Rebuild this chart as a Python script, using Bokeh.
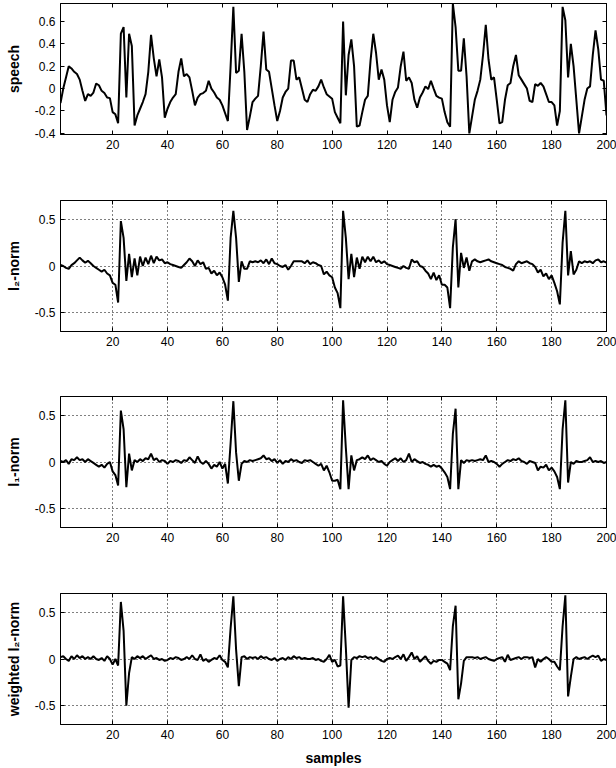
from bokeh.plotting import figure
from bokeh.layouts import column
from bokeh.models import Range1d, FixedTicker, LinearAxis, CustomJSTickFormatter
from bokeh.embed import file_html
from bokeh.resources import INLINE

samples = list(range(1, 201))

speech = [
    -0.13, 0.0, 0.1, 0.2, 0.18, 0.15, 0.13, 0.08, -0.02, -0.11,
    -0.05, -0.065, -0.035, 0.045, 0.03, -0.02, -0.04, -0.08, -0.085, -0.21,
    -0.23, -0.31, 0.49, 0.55, -0.08, 0.49, 0.38, -0.33, -0.24, -0.18,
    -0.12, -0.05, 0.15, 0.48, 0.27, 0.11, 0.26, 0.1, -0.26, -0.18,
    -0.12, -0.08, -0.05, 0.15, 0.27, 0.11, 0.13, 0.1, -0.02, -0.15,
    -0.08, -0.05, -0.04, -0.02, 0.07, 0.0, -0.035, -0.08, -0.1, -0.15,
    -0.22, -0.29, 0.2, 0.73, 0.14, 0.16, 0.49, 0.15, -0.37, -0.25,
    -0.12, -0.09, -0.065, 0.2, 0.51, 0.17, 0.15, 0.0, -0.15, -0.29,
    -0.2, -0.08, -0.03, 0.0, 0.25, 0.25, 0.08, 0.1, 0.0, -0.1,
    -0.12, -0.05, -0.01, -0.02, 0.02, 0.08, 0.01, -0.05, -0.07, -0.09,
    -0.21, -0.26, -0.31, 0.6, -0.06, 0.3, 0.44, 0.2, -0.34, -0.33,
    -0.21, -0.1, -0.065, 0.25, 0.49, 0.32, 0.08, 0.17, 0.08, -0.15,
    -0.3, -0.1, -0.03, 0.01, 0.2, 0.33, 0.07, 0.1, 0.05, -0.1,
    -0.17, -0.08, -0.035, 0.02, -0.005, 0.07, 0.0, -0.065, -0.08, -0.09,
    -0.21, -0.3, -0.34, 0.76, 0.55, 0.16, 0.16, 0.45, 0.11, -0.4,
    -0.25, -0.1, -0.02, 0.08, 0.3, 0.57, 0.26, 0.08, 0.1, -0.1,
    -0.31, -0.3, -0.1, 0.03, 0.05, 0.2, 0.3, 0.12, 0.08, 0.04,
    0.0, -0.11, -0.12, 0.04, 0.025, 0.05, 0.02, -0.05, -0.12, -0.12,
    -0.15, -0.33, -0.2, 0.73, 0.61, 0.1, 0.4, 0.2, -0.1, -0.4,
    -0.25, -0.1, 0.0, 0.02, 0.3, 0.52, 0.35, 0.08, 0.07, -0.24,
]

l2_norm = [
    0.01, 0.0, -0.02, -0.03, 0.01, 0.03, 0.06, 0.09, 0.06, 0.035,
    0.055, 0.03, 0.0, -0.02, -0.04, -0.06, -0.04, -0.08, -0.1, -0.18,
    -0.2, -0.39, 0.48, 0.3, -0.16, 0.13, -0.12, 0.08, -0.1, 0.1,
    0.0, 0.09, 0.02, 0.11, 0.03, 0.1, 0.06, 0.07, 0.03, 0.04,
    0.02, 0.01, 0.0, -0.01, -0.02, 0.01, 0.04, 0.08, 0.05, 0.0,
    0.06, 0.02, 0.04, -0.03, -0.02, -0.08, -0.05, -0.1, -0.07, -0.12,
    -0.2, -0.37, 0.3, 0.59, 0.3, -0.17, 0.05, -0.03, -0.03, 0.05,
    0.04, 0.05, 0.04, 0.06, 0.03, 0.07, 0.02, 0.08, 0.03, 0.02,
    0.0, -0.01, 0.01, -0.04, 0.0, 0.05, 0.05, 0.05, 0.05, 0.03,
    0.06, 0.02, 0.04, 0.03, 0.01, 0.0, -0.09, -0.06, -0.1, -0.12,
    -0.23, -0.29, -0.45, 0.59, 0.3, -0.14, 0.13, -0.12, 0.09, -0.03,
    0.1, 0.04, 0.1, 0.05, 0.1, 0.04, 0.06, 0.03, 0.05, 0.02,
    0.01, 0.0, -0.01, -0.02, -0.03, 0.0, -0.02, -0.03, 0.07, 0.04,
    0.05, 0.0, -0.01, -0.05, -0.08, -0.14, -0.07, -0.15, -0.1, -0.2,
    -0.2, -0.23, -0.45, 0.2, 0.5, -0.23, 0.14, -0.02, 0.09, -0.05,
    0.05, 0.07, 0.05, 0.04, 0.05, 0.06, 0.07, 0.05, 0.04, 0.03,
    0.02, 0.01, -0.01, -0.02, -0.03, -0.05, 0.02, 0.05, 0.03, 0.04,
    0.05, 0.03, 0.02, -0.01, -0.07, -0.04, -0.11, -0.08, -0.14, -0.1,
    -0.18, -0.27, -0.41, 0.25, 0.59, -0.1, 0.16, -0.09, -0.04, 0.05,
    0.03, 0.05, 0.04, 0.05, 0.03, 0.06, 0.07, 0.04, 0.05, 0.035,
]

l1_norm = [
    0.01, 0.0, 0.02, -0.02, 0.03, 0.02, 0.05, 0.02, 0.03, 0.0,
    0.03, 0.01, -0.01, -0.03, -0.05, -0.03, -0.06, -0.02, 0.0, -0.1,
    -0.14, -0.25, 0.55, 0.35, -0.27, 0.09, -0.09, 0.02, 0.0, 0.03,
    0.01, 0.04, 0.03, 0.09, 0.02, 0.04, 0.0, 0.02, 0.01, -0.02,
    0.01, 0.0, 0.02, 0.01, -0.01, 0.02, 0.01, 0.05, 0.02, -0.01,
    0.06, 0.0, -0.02, 0.01, -0.02, -0.07, -0.03, -0.05, 0.0, -0.07,
    -0.02, -0.23, 0.2, 0.65, 0.1, -0.2, -0.02, 0.01, 0.0, 0.02,
    0.01, 0.02, 0.03, 0.04, 0.07, 0.03, 0.04, 0.01, 0.03, -0.01,
    0.02, -0.02, 0.01, 0.0, 0.03, 0.01, 0.02, 0.0, -0.01, 0.02,
    0.01, 0.02, 0.0, -0.02, -0.04, -0.02, -0.09, -0.04, -0.11, -0.2,
    -0.2, -0.19, -0.29, 0.66, 0.15, -0.29, 0.07, -0.09, 0.02, 0.03,
    0.05, 0.03, 0.07, 0.02, 0.04, 0.02, 0.0, 0.01, -0.02, -0.04,
    0.0, 0.02, 0.04, 0.01, 0.04, 0.0, 0.02, 0.09, 0.0, 0.03,
    0.01, -0.01, 0.0, -0.02, -0.03, -0.05, -0.03, -0.05, -0.04, -0.07,
    -0.11, -0.16, -0.29, 0.3, 0.57, -0.29, 0.02, -0.01, 0.02, 0.01,
    0.02, 0.01, 0.02, 0.03, 0.02, 0.07, 0.0, 0.01, 0.0, -0.02,
    -0.05, -0.02, 0.0, 0.02, 0.01, 0.03, 0.02, 0.04, 0.01, 0.0,
    -0.02, 0.01, 0.0, -0.01, -0.09, -0.05, -0.06, -0.03, -0.09, -0.06,
    -0.1, -0.16, -0.29, 0.35, 0.66, -0.22, 0.0, -0.02, 0.01, 0.0,
    0.0, 0.01, 0.02, 0.05, 0.0, 0.01, 0.0, 0.01, -0.01, 0.0,
]

weighted_l2_norm = [
    0.02, 0.03, 0.0, -0.02, 0.03, 0.0, 0.04, 0.01, 0.03, 0.0,
    0.02, 0.0, 0.03, 0.0, -0.01, 0.01, -0.02, 0.03, 0.0, -0.06,
    0.0, -0.07, 0.61, 0.3, -0.5, -0.15, 0.02, 0.0, 0.03, 0.01,
    0.03, 0.0, 0.02, 0.04, 0.0, 0.01, -0.01, 0.0, -0.02, -0.01,
    0.01, 0.0, 0.02, 0.01, -0.01, 0.0, 0.02, 0.0, 0.04, 0.0,
    -0.01, 0.05, -0.02, 0.0, -0.03, -0.01, 0.01, 0.0, 0.04, -0.01,
    -0.03, -0.09, 0.33, 0.67, 0.1, -0.29, 0.02, 0.03, 0.0, 0.02,
    0.01, 0.02, 0.0, 0.03, 0.01, 0.02, 0.0, -0.01, 0.01, -0.02,
    0.0, 0.01, -0.01, 0.02, 0.0, 0.03, 0.01, 0.02, 0.0, 0.01,
    0.0, 0.0, 0.01, -0.01, 0.0, -0.02, -0.03, 0.0, 0.045, -0.03,
    -0.01, -0.08, -0.07, 0.67, 0.12, -0.52, -0.01, 0.02, 0.01, 0.03,
    0.02, 0.03, 0.01, 0.02, 0.0, 0.02, 0.0, -0.02, -0.03, 0.0,
    0.01, 0.0, 0.02, 0.035, 0.0, 0.05, -0.02, 0.02, 0.07, 0.0,
    0.03, -0.03, 0.0, 0.03, -0.02, -0.05, -0.02, -0.03, -0.01, -0.01,
    -0.03, -0.05, -0.12, 0.35, 0.57, -0.43, -0.26, -0.02, 0.02, 0.02,
    0.02, 0.01, 0.02, 0.0, 0.01, 0.02, 0.0, -0.01, -0.02, 0.0,
    0.01, 0.02, -0.03, 0.045, -0.01, 0.0, 0.01, 0.02, 0.0, 0.02,
    0.02, 0.01, 0.02, -0.09, 0.0, -0.03, 0.0, 0.02, 0.0, -0.03,
    -0.03, -0.08, -0.12, 0.35, 0.68, -0.4, -0.19, 0.0, 0.02, 0.0,
    0.01, 0.02, 0.0, 0.02, 0.035, 0.02, 0.035, -0.02, 0.0, -0.01,
]

x_ticks = [20, 40, 60, 80, 100, 120, 140, 160, 180, 200]
speech_y_ticks = [-0.4, -0.2, 0, 0.2, 0.4, 0.6]
norm_y_ticks = [-0.5, 0, 0.5]

FONT = "Liberation Sans"
num_fmt = "return String(Math.round(tick * 100) / 100);"


def make_panel(y, ylabel, yrange, yticks, grid, border_top, border_bottom, xlabel=None):
    p = figure(frame_width=546, frame_height=131,
               min_border_left=60, min_border_right=10,
               min_border_top=border_top, min_border_bottom=border_bottom,
               x_range=Range1d(1, 200), y_range=Range1d(*yrange),
               output_backend="svg", toolbar_location=None,
               background_fill_color="white", border_fill_color="white")
    p.outline_line_color = "black"
    p.outline_line_width = 1
    p.line(samples, y, line_color="black", line_width=2)

    p.xaxis.ticker = FixedTicker(ticks=x_ticks)
    p.yaxis.ticker = FixedTicker(ticks=yticks)
    p.yaxis.formatter = CustomJSTickFormatter(code=num_fmt)
    for ax in (p.xaxis[0], p.yaxis[0]):
        ax.major_tick_in = 4
        ax.major_tick_out = 0
        ax.minor_tick_line_color = None
        ax.axis_line_color = "black"
        ax.major_tick_line_color = "black"
        ax.major_label_text_font = FONT
        ax.major_label_text_font_size = "12px"
        ax.major_label_text_color = "black"
        ax.major_label_standoff = 5
        ax.axis_label_text_font = FONT
        ax.axis_label_text_font_size = "14px"
        ax.axis_label_text_font_style = "bold"
        ax.axis_label_text_color = "black"
    p.yaxis.axis_label = ylabel
    p.yaxis.axis_label_standoff = 10
    if xlabel:
        p.xaxis.axis_label = xlabel
        p.xaxis.axis_label_standoff = 8

    for loc, ticks in (("right", yticks), ("above", x_ticks)):
        ax = LinearAxis(ticker=FixedTicker(ticks=ticks),
                        formatter=CustomJSTickFormatter(code="return '';"),
                        major_tick_in=4, major_tick_out=0,
                        minor_tick_line_color=None,
                        axis_line_color="black", major_tick_line_color="black",
                        major_label_standoff=0, major_label_text_font_size="1px")
        p.add_layout(ax, loc)

    if grid:
        p.grid.grid_line_color = "black"
        p.grid.grid_line_dash = "1 3"
        p.grid.grid_line_width = 1
        p.grid.grid_line_alpha = 1.0
    else:
        p.grid.visible = False
    return p


p1 = make_panel(speech, "speech", (-0.41, 0.76), speech_y_ticks, False, 3, 63)
p2 = make_panel(l2_norm, "l\u2082-norm", (-0.7, 0.7), norm_y_ticks, True, 3, 62)
p3 = make_panel(l1_norm, "l\u2081-norm", (-0.7, 0.7), norm_y_ticks, True, 3, 62)
p4 = make_panel(weighted_l2_norm, "weighted l\u2082-norm", (-0.7, 0.7), norm_y_ticks, True, 4, 44,
                xlabel="samples")

layout = column(p1, p2, p3, p4, spacing=0,
                styles={"position": "absolute", "top": "0px", "left": "0px"})

open("out.html", "w").write(file_html(layout, INLINE))
